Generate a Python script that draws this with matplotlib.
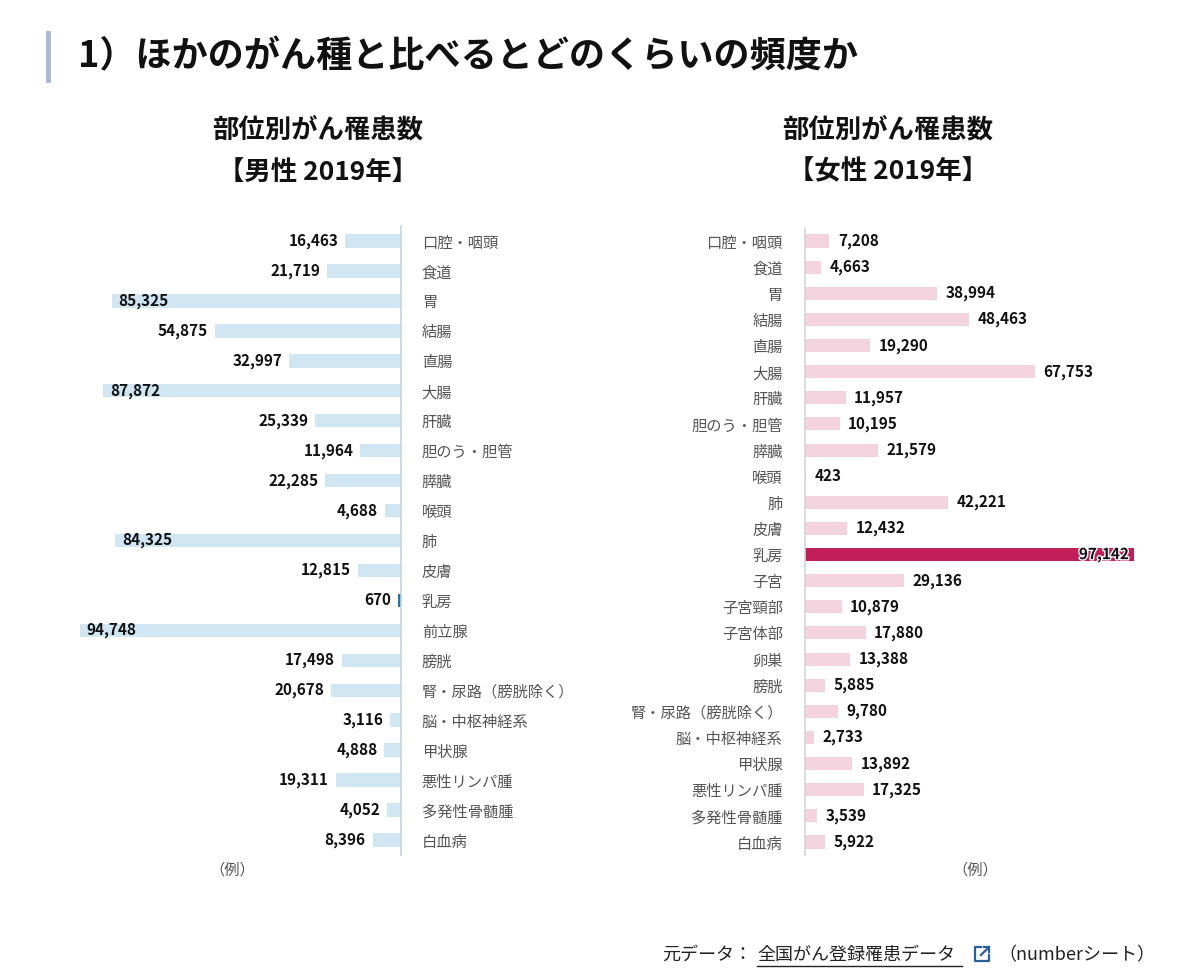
import matplotlib.pyplot as plt
import matplotlib.patheffects as pe

plt.rcParams['font.family'] = ['Noto Sans CJK JP', 'DejaVu Sans']

# 男性 2019年
male_sites = ['口腔・咽頭', '食道', '胃', '結腸', '直腸', '大腸', '肝臓', '胆のう・胆管',
              '膵臓', '喉頭', '肺', '皮膚', '乳房', '前立腺', '膀胱',
              '腎・尿路（膀胱除く）', '脳・中枢神経系', '甲状腺', '悪性リンパ腫',
              '多発性骨髄腫', '白血病']
male_counts = [16463, 21719, 85325, 54875, 32997, 87872, 25339, 11964, 22285, 4688,
               84325, 12815, 670, 94748, 17498, 20678, 3116, 4888, 19311, 4052, 8396]

# 女性 2019年
female_sites = ['口腔・咽頭', '食道', '胃', '結腸', '直腸', '大腸', '肝臓', '胆のう・胆管',
                '膵臓', '喉頭', '肺', '皮膚', '乳房', '子宮', '子宮頸部', '子宮体部', '卵巣',
                '膀胱', '腎・尿路（膀胱除く）', '脳・中枢神経系', '甲状腺', '悪性リンパ腫',
                '多発性骨髄腫', '白血病']
female_counts = [7208, 4663, 38994, 48463, 19290, 67753, 11957, 10195, 21579, 423,
                 42221, 12432, 97142, 29136, 10879, 17880, 13388, 5885, 9780, 2733,
                 13892, 17325, 3539, 5922]

highlight = '乳房'

W, H = 1200, 974
fig = plt.figure(figsize=(W / 100, H / 100), dpi=100)
fig.patch.set_facecolor('white')


def px_axes(x0, y0, x1, y1):
    # axes from pixel box (top-left origin)
    return fig.add_axes([x0 / W, 1 - y1 / H, (x1 - x0) / W, (y1 - y0) / H])


# heading
fig.add_artist(plt.Line2D([48 / W, 48 / W], [1 - 33 / H, 1 - 80 / H],
                          color='#a9b8d0', lw=3.5))
fig.text(78 / W, 1 - 57 / H, '1）ほかのがん種と比べるとどのくらいの頻度か',
         fontsize=26, fontweight='bold', va='center', ha='left', color='#111111')

for cx, sex in [(318, '男性'), (888, '女性')]:
    fig.text(cx / W, 1 - 130 / H, '部位別がん罹患数', fontsize=19, fontweight='bold',
             ha='center', va='center', color='#111111')
    fig.text(cx / W, 1 - 172 / H, '【' + sex + ' 2019年】', fontsize=19, fontweight='bold',
             ha='center', va='center', color='#111111')

px_per = 3.39 / 1000

# ---- male (bars to the left) ----
n_m = len(male_sites)
sp_m = (840 - 241) / (n_m - 1)
axm = px_axes(60, 241 - sp_m / 2, 401, 840 + sp_m / 2)
axm.set_xlim(341 / px_per, 0)
axm.set_ylim(n_m - 0.5, -0.5)
colors_m = ['#1f74aa' if s == highlight else '#d0e6f2' for s in male_sites]
axm.barh(range(n_m), male_counts, height=0.45, color=colors_m)
for i, v in enumerate(male_counts):
    label = f'{v:,}'
    if male_sites[i] == highlight:
        # tiny value: draw a visible sliver
        axm.barh(i, 900, height=0.45, color='#1f74aa')
        v = 900
    if v > 80000:
        axm.annotate(label, (v, i), xytext=(5, 0), textcoords='offset points',
                     ha='left', va='center', fontsize=11, fontweight='bold', color='#111111')
    else:
        axm.annotate(label, (v, i), xytext=(-5, 0), textcoords='offset points',
                     ha='right', va='center', fontsize=11, fontweight='bold', color='#111111')
axm.yaxis.tick_right()
axm.set_yticks(range(n_m))
axm.set_yticklabels(male_sites, fontsize=11, color='#555555')
axm.tick_params(axis='y', length=0, pad=15)
axm.set_xticks([])
for side in ['left', 'top', 'bottom']:
    axm.spines[side].set_visible(False)
axm.spines['right'].set_color('#c5d3e3')
axm.spines['right'].set_linewidth(1.2)
axm.patch.set_alpha(0)

# ---- female (bars to the right) ----
n_f = len(female_sites)
sp_f = (842 - 241) / (n_f - 1)
axf = px_axes(805, 241 - sp_f / 2, 1165, 842 + sp_f / 2)
axf.set_xlim(0, 360 / px_per)
axf.set_ylim(n_f - 0.5, -0.5)
colors_f = ['#c21f58' if s == highlight else '#f3d3de' for s in female_sites]
axf.barh(range(n_f), female_counts, height=0.5, color=colors_f)
for i, v in enumerate(female_counts):
    if female_sites[i] == highlight:
        axf.annotate(f'{v:,}', (v, i), xytext=(-4, 0), textcoords='offset points',
                     ha='right', va='center', fontsize=11, fontweight='bold', color='#111111',
                     path_effects=[pe.withStroke(linewidth=2, foreground='white')])
    else:
        axf.annotate(f'{v:,}', (v, i), xytext=(6, 0), textcoords='offset points',
                     ha='left', va='center', fontsize=11, fontweight='bold', color='#111111')
axf.set_yticks(range(n_f))
axf.set_yticklabels(female_sites, fontsize=11, color='#555555')
axf.tick_params(axis='y', length=0, pad=16)
axf.set_xticks([])
for side in ['right', 'top', 'bottom']:
    axf.spines[side].set_visible(False)
axf.spines['left'].set_color('#d5d5d5')
axf.spines['left'].set_linewidth(1.2)
axf.patch.set_alpha(0)

# unit notes
fig.text(232 / W, 1 - 870 / H, '（例）', fontsize=11, color='#555555', ha='center', va='center')
fig.text(975 / W, 1 - 870 / H, '（例）', fontsize=11, color='#555555', ha='center', va='center')

# source line
src_y = 1 - 955 / H
fig.text(662 / W, src_y, '元データ：', fontsize=13, color='#222222', ha='left', va='center')
fig.text(757 / W, src_y, '全国がん登録罹患データ', fontsize=13, color='#222222',
         ha='left', va='center')
fig.add_artist(plt.Line2D([757 / W, 962 / W], [1 - 966 / H, 1 - 966 / H],
                          color='#222222', lw=1))
# external link icon
ix, iy, isz = 975, 947, 14
fig.add_artist(plt.Line2D([(ix + 6) / W, ix / W, ix / W, (ix + isz) / W, (ix + isz) / W],
                          [1 - iy / H, 1 - iy / H, 1 - (iy + isz) / H, 1 - (iy + isz) / H,
                           1 - (iy + 8) / H], color='#2a5f9e', lw=1.6))
fig.add_artist(plt.Line2D([(ix + 6) / W, (ix + isz) / W], [1 - (iy + 8) / H, 1 - iy / H],
                          color='#2a5f9e', lw=1.6))
fig.add_artist(plt.Line2D([(ix + 9) / W, (ix + isz) / W, (ix + isz) / W],
                          [1 - iy / H, 1 - iy / H, 1 - (iy + 5) / H], color='#2a5f9e', lw=1.6))
fig.text(998 / W, src_y, '（numberシート）', fontsize=13, color='#222222', ha='left', va='center')

fig.savefig('out.png', dpi=100)
